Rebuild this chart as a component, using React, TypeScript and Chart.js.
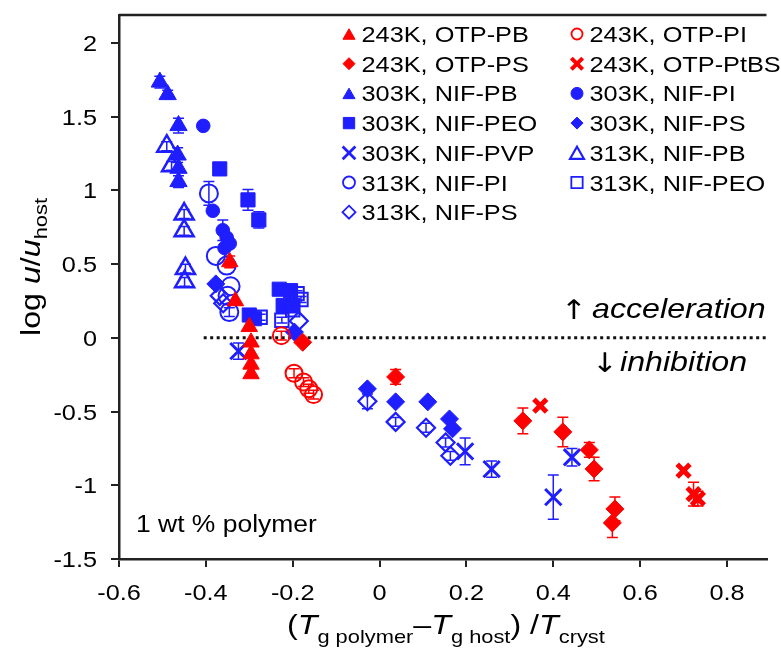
import React, { useEffect, useRef } from 'react';
import { Chart, registerables } from 'chart.js';

Chart.register(...registerables);

// ---------- axis ticks ----------
const xTicks = [-0.6, -0.4, -0.2, 0, 0.2, 0.4, 0.6, 0.8];
const xTickLabels = ['-0.6', '-0.4', '-0.2', '0', '0.2', '0.4', '0.6', '0.8'];
const yTicks = [2, 1.5, 1, 0.5, 0, -0.5, -1, -1.5];
const yTickLabels = ['2', '1.5', '1', '0.5', '0', '-0.5', '-1', '-1.5'];
const X_MIN = -0.6;
const X_MAX = 0.891;
const Y_MIN = -1.5;
const Y_MAX = 2.19;
const ZERO_LINE_START = -0.405;

// ---------- series data ----------
const otpPbX = [-0.345, -0.332, -0.3, -0.296, -0.296, -0.296, -0.296];
const otpPbY = [0.515, 0.25, 0.075, -0.03, -0.11, -0.18, -0.245];
const otpPbErr = [0.04, 0, 0, 0, 0, 0, 0];

const otpPiX = [-0.226, -0.197, -0.175, -0.163, -0.152];
const otpPiY = [0.015, -0.24, -0.3, -0.345, -0.385];
const otpPiErr = [0.03, 0.03, 0.03, 0.03, 0.03];

const otpPsX = [-0.177, 0.037, 0.33, 0.422, 0.483, 0.494, 0.542, 0.536];
const otpPsY = [-0.03, -0.265, -0.563, -0.638, -0.76, -0.889, -1.16, -1.255];
const otpPsErr = [0, 0.05, 0.088, 0.1, 0.05, 0.08, 0.08, 0.1];

const otpPtbsX = [0.37, 0.7, 0.723, 0.733];
const otpPtbsY = [-0.46, -0.9, -1.06, -1.09];
const otpPtbsErr = [0, 0, 0.08, 0.05];

const nifPb303X = [-0.506, -0.488, -0.463, -0.465, -0.463, -0.463];
const nifPb303Y = [1.735, 1.65, 1.44, 1.24, 1.15, 1.06];
const nifPb303Err = [0.04, 0.03, 0.05, 0.05, 0, 0.04];

const nifPi303X = [-0.406, -0.384, -0.361, -0.352, -0.357, -0.345];
const nifPi303Y = [1.438, 0.862, 0.73, 0.68, 0.61, 0.64];
const nifPi303Err = [0, 0, 0.07, 0, 0, 0];

const nifPeo303X = [-0.368, -0.303, -0.278, -0.3, -0.288, -0.231, -0.222, -0.2, -0.205];
const nifPeo303Y = [1.146, 0.936, 0.8, 0.155, 0.13, 0.33, 0.22, 0.22, 0.32];
const nifPeo303Err = [0, 0.07, 0.055, 0, 0, 0, 0, 0, 0];

const nifPs303X = [-0.377, -0.196, -0.028, 0.037, 0.111, 0.161, 0.168];
const nifPs303Y = [0.366, 0.039, -0.346, -0.434, -0.434, -0.55, -0.617];
const nifPs303Err = [0, 0, 0, 0, 0, 0, 0];

const nifPvp303X = [-0.325, 0.197, 0.258, 0.4, 0.443];
const nifPvp303Y = [-0.09, -0.77, -0.89, -1.08, -0.81];
const nifPvp303Err = [0.055, 0.09, 0.055, 0.15, 0.06];

const nifPb313X = [-0.49, -0.479, -0.45, -0.45, -0.447, -0.449];
const nifPb313Y = [1.3, 1.167, 0.84, 0.726, 0.47, 0.38];
const nifPb313Err = [0.03, 0.03, 0.03, 0.03, 0.03, 0.03];

const nifPi313X = [-0.393, -0.377, -0.352, -0.343, -0.35, -0.346];
const nifPi313Y = [0.98, 0.556, 0.49, 0.35, 0.285, 0.175];
const nifPi313Err = [0.08, 0, 0, 0, 0, 0.03];

const nifPeo313X = [-0.275, -0.19, -0.181, -0.225, -0.2];
const nifPeo313Y = [0.14, 0.3, 0.26, 0.12, 0.19];
const nifPeo313Err = [0.02, 0.02, 0.02, 0.02, 0.02];

const nifPs313X = [-0.368, -0.36, -0.186, -0.028, 0.037, 0.107, 0.152, 0.163];
const nifPs313Y = [0.285, 0.235, 0.115, -0.43, -0.57, -0.61, -0.71, -0.8];
const nifPs313Err = [0, 0, 0, 0.05, 0.03, 0.03, 0.03, 0.03];

const seriesLabels = [
  '243K, OTP-PB', '243K, OTP-PI',
  '243K, OTP-PS', '243K, OTP-PtBS',
  '303K, NIF-PB', '303K, NIF-PI',
  '303K, NIF-PEO', '303K, NIF-PS',
  '303K, NIF-PVP', '313K, NIF-PB',
  '313K, NIF-PI', '313K, NIF-PEO',
  '313K, NIF-PS',
];

const RED = 'rgb(255,0,0)';
const BLUE = 'rgb(30,30,255)';
const FONT = "'Liberation Sans', Arial, sans-serif";
const ARROW_FONT = "'DejaVu Sans', sans-serif";
const STRETCH = 1.15;

type Series = {
  label: string; x: number[]; y: number[]; err: number[];
  color: string; style: string; filled: boolean; r: number; bw: number; lr: number; lbw: number;
};

const series: Series[] = [
  { label: seriesLabels[0], x: otpPbX, y: otpPbY, err: otpPbErr, color: RED, style: 'triangle', filled: true, r: 9.5, bw: 1, lr: 7, lbw: 1 },
  { label: seriesLabels[1], x: otpPiX, y: otpPiY, err: otpPiErr, color: RED, style: 'circle', filled: false, r: 8.5, bw: 2, lr: 5.5, lbw: 1.8 },
  { label: seriesLabels[2], x: otpPsX, y: otpPsY, err: otpPsErr, color: RED, style: 'rectRot', filled: true, r: 9, bw: 1, lr: 6, lbw: 1 },
  { label: seriesLabels[3], x: otpPtbsX, y: otpPtbsY, err: otpPtbsErr, color: RED, style: 'crossRot', filled: false, r: 9, bw: 5, lr: 8, lbw: 4 },
  { label: seriesLabels[4], x: nifPb303X, y: nifPb303Y, err: nifPb303Err, color: BLUE, style: 'triangle', filled: true, r: 10, bw: 1, lr: 7, lbw: 1 },
  { label: seriesLabels[5], x: nifPi303X, y: nifPi303Y, err: nifPi303Err, color: BLUE, style: 'circle', filled: true, r: 6.8, bw: 1, lr: 6, lbw: 1 },
  { label: seriesLabels[6], x: nifPeo303X, y: nifPeo303Y, err: nifPeo303Err, color: BLUE, style: 'rect', filled: true, r: 10, bw: 1, lr: 8, lbw: 1 },
  { label: seriesLabels[7], x: nifPs303X, y: nifPs303Y, err: nifPs303Err, color: BLUE, style: 'rectRot', filled: true, r: 9, bw: 1, lr: 6, lbw: 1 },
  { label: seriesLabels[8], x: nifPvp303X, y: nifPvp303Y, err: nifPvp303Err, color: BLUE, style: 'crossRot', filled: false, r: 11.5, bw: 3, lr: 9, lbw: 2.8 },
  { label: seriesLabels[9], x: nifPb313X, y: nifPb313Y, err: nifPb313Err, color: BLUE, style: 'triangle', filled: false, r: 11, bw: 2.5, lr: 8, lbw: 2.2 },
  { label: seriesLabels[10], x: nifPi313X, y: nifPi313Y, err: nifPi313Err, color: BLUE, style: 'circle', filled: false, r: 9, bw: 2, lr: 6, lbw: 1.8 },
  { label: seriesLabels[11], x: nifPeo313X, y: nifPeo313Y, err: nifPeo313Err, color: BLUE, style: 'rect', filled: false, r: 9.5, bw: 2, lr: 8, lbw: 1.8 },
  { label: seriesLabels[12], x: nifPs313X, y: nifPs313Y, err: nifPs313Err, color: BLUE, style: 'rectRot', filled: false, r: 9, bw: 2.2, lr: 6.5, lbw: 1.8 },
];

type Run = { t: string; font: string; dy?: number };

function drawRuns(ctx: CanvasRenderingContext2D, runs: Run[], x: number, y: number, rotate = false) {
  ctx.save();
  ctx.translate(x, y);
  if (rotate) ctx.rotate(-Math.PI / 2);
  ctx.scale(STRETCH, 1);
  ctx.fillStyle = '#000';
  ctx.textBaseline = 'alphabetic';
  ctx.textAlign = 'left';
  let cx = 0;
  for (const r of runs) {
    ctx.font = r.font;
    ctx.fillText(r.t, cx, r.dy || 0);
    cx += ctx.measureText(r.t).width;
  }
  ctx.restore();
}

function textWidth(ctx: CanvasRenderingContext2D, t: string, font: string) {
  ctx.save();
  ctx.font = font;
  const w = ctx.measureText(t).width * STRETCH;
  ctx.restore();
  return w;
}

function drawMarker(ctx: CanvasRenderingContext2D, s: Series, x: number, y: number) {
  const r = s.lr;
  ctx.save();
  ctx.beginPath();
  if (s.style === 'circle') {
    ctx.arc(x, y, r, 0, Math.PI * 2);
  } else if (s.style === 'triangle') {
    const yy = y + r / 4;
    ctx.moveTo(x, yy - r);
    ctx.lineTo(x + r * Math.sin((2 * Math.PI) / 3), yy - r * Math.cos((2 * Math.PI) / 3));
    ctx.lineTo(x + r * Math.sin((4 * Math.PI) / 3), yy - r * Math.cos((4 * Math.PI) / 3));
    ctx.closePath();
  } else if (s.style === 'rect') {
    const h = r * Math.SQRT1_2;
    ctx.rect(x - h, y - h, 2 * h, 2 * h);
  } else if (s.style === 'rectRot') {
    ctx.moveTo(x, y - r);
    ctx.lineTo(x + r, y);
    ctx.lineTo(x, y + r);
    ctx.lineTo(x - r, y);
    ctx.closePath();
  } else if (s.style === 'crossRot') {
    const o = r * Math.SQRT1_2;
    ctx.moveTo(x - o, y - o);
    ctx.lineTo(x + o, y + o);
    ctx.moveTo(x + o, y - o);
    ctx.lineTo(x - o, y + o);
  }
  ctx.lineWidth = s.lbw;
  ctx.strokeStyle = s.color;
  ctx.fillStyle = s.color;
  if (s.filled && s.style !== 'crossRot') ctx.fill();
  ctx.stroke();
  ctx.restore();
}

const decorPlugin = {
  id: 'decor',
  beforeDatasetsDraw(chart: any) {
    const ctx: CanvasRenderingContext2D = chart.ctx;
    const xs = chart.scales.x;
    const ys = chart.scales.y;
    const area = chart.chartArea;
    // dotted zero line
    ctx.save();
    ctx.beginPath();
    ctx.setLineDash([3, 3.5]);
    ctx.lineWidth = 3;
    ctx.strokeStyle = '#111';
    const y0 = ys.getPixelForValue(0);
    ctx.moveTo(xs.getPixelForValue(ZERO_LINE_START), y0);
    ctx.lineTo(area.right, y0);
    ctx.stroke();
    ctx.restore();
    // error bars
    ctx.save();
    ctx.lineWidth = 1.5;
    series.forEach((s) => {
      ctx.strokeStyle = s.color;
      s.x.forEach((xv, i) => {
        const e = s.err[i];
        if (!e) return;
        const px = xs.getPixelForValue(xv);
        const top = ys.getPixelForValue(s.y[i] + e);
        const bot = ys.getPixelForValue(s.y[i] - e);
        ctx.beginPath();
        ctx.moveTo(px, top);
        ctx.lineTo(px, bot);
        ctx.moveTo(px - 5.5, top);
        ctx.lineTo(px + 5.5, top);
        ctx.moveTo(px - 5.5, bot);
        ctx.lineTo(px + 5.5, bot);
        ctx.stroke();
      });
    });
    ctx.restore();
  },
  afterDraw(chart: any) {
    const ctx: CanvasRenderingContext2D = chart.ctx;
    const xs = chart.scales.x;
    const ys = chart.scales.y;
    const area = chart.chartArea;
    // top frame line
    ctx.save();
    ctx.strokeStyle = '#222';
    ctx.lineWidth = 2.5;
    ctx.beginPath();
    ctx.moveTo(area.left, area.top);
    ctx.lineTo(area.right, area.top);
    ctx.stroke();
    ctx.restore();

    const tickFont = `22px ${FONT}`;
    // y tick labels
    yTicks.forEach((v, i) => {
      const t = yTickLabels[i];
      const w = textWidth(ctx, t, tickFont);
      drawRuns(ctx, [{ t, font: tickFont }], 97 - w, ys.getPixelForValue(v) + 8);
    });
    // x tick labels
    xTicks.forEach((v, i) => {
      const t = xTickLabels[i];
      const w = textWidth(ctx, t, tickFont);
      drawRuns(ctx, [{ t, font: tickFont }], xs.getPixelForValue(v) - w / 2, 600);
    });

    // axis titles
    const big = `28px ${FONT}`;
    const bigI = `italic 28px ${FONT}`;
    const sub = `19px ${FONT}`;
    drawRuns(ctx, [
      { t: '(', font: big },
      { t: 'T', font: bigI },
      { t: 'g polymer', font: sub, dy: 9 },
      { t: '\u2013', font: big },
      { t: 'T', font: bigI },
      { t: 'g host', font: sub, dy: 9 },
      { t: ')', font: big },
      { t: ' /', font: big },
      { t: 'T', font: bigI },
      { t: 'cryst', font: sub, dy: 9 },
    ], 287, 634);
    drawRuns(ctx, [
      { t: 'log ', font: big },
      { t: 'u', font: bigI },
      { t: '/', font: big },
      { t: 'u', font: bigI },
      { t: 'host', font: sub, dy: 7 },
    ], 40, 336, true);

    // annotations
    const annI = `italic 28px ${FONT}`;
    const arrowFont = `27px ${ARROW_FONT}`;
    drawRuns(ctx, [{ t: '\u2191', font: arrowFont }], 561, 319);
    drawRuns(ctx, [{ t: 'acceleration', font: annI }], 592, 318);
    drawRuns(ctx, [{ t: '\u2193', font: arrowFont }], 592, 372);
    drawRuns(ctx, [{ t: 'inhibition', font: annI }], 620, 371);
    drawRuns(ctx, [{ t: '1 wt % polymer', font: `23px ${FONT}` }], 136, 532);

    // legend (two columns)
    const legFont = `22px ${FONT}`;
    series.forEach((s, i) => {
      const row = Math.floor(i / 2);
      const col = i % 2;
      const cy = 34 + row * 29.7;
      const mx = col === 0 ? 349 : 577;
      drawMarker(ctx, s, mx, cy);
      drawRuns(ctx, [{ t: s.label, font: legFont }], mx + 12.5, cy + 8);
    });
  },
};

export default function App() {
  const ref = useRef<HTMLCanvasElement | null>(null);
  useEffect(() => {
    if (!ref.current) return;
    const datasets = series.map((s) => ({
      label: s.label,
      data: s.x.map((v, i) => ({ x: v, y: s.y[i] })),
      pointStyle: s.style,
      pointRadius: s.r,
      pointHoverRadius: s.r,
      pointBorderWidth: s.bw,
      pointBackgroundColor: s.filled ? s.color : 'rgba(0,0,0,0)',
      pointBorderColor: s.color,
      showLine: false,
    }));
    const chart = new Chart(ref.current, {
      type: 'scatter',
      data: { datasets: datasets as any },
      options: {
        animation: false,
        responsive: false,
        devicePixelRatio: 1,
        layout: { padding: { top: 15, left: 0, right: 0, bottom: 0 } },
        plugins: { legend: { display: false }, tooltip: { enabled: false } },
        scales: {
          x: {
            type: 'linear',
            min: X_MIN,
            max: X_MAX,
            afterBuildTicks: (s: any) => { s.ticks = xTicks.map((v) => ({ value: v })); },
            afterFit: (s: any) => { s.height = 89; },
            ticks: { display: false },
            grid: { display: true, drawOnChartArea: false, drawTicks: true, tickLength: 8, lineWidth: 2, color: '#222' },
            border: { display: true, color: '#222', width: 2.5 },
          },
          y: {
            type: 'linear',
            min: Y_MIN,
            max: Y_MAX,
            afterBuildTicks: (s: any) => { s.ticks = yTicks.map((v) => ({ value: v })); },
            afterFit: (s: any) => { s.width = 119; },
            ticks: { display: false },
            grid: { display: true, drawOnChartArea: false, drawTicks: true, tickLength: 8, lineWidth: 2, color: '#222' },
            border: { display: true, color: '#222', width: 2.5 },
          },
        },
      } as any,
      plugins: [decorPlugin],
    });
    return () => chart.destroy();
  }, []);
  return (
    <div style={{ position: 'absolute', left: 0, top: 0, width: 781, height: 648, background: '#fff' }}>
      <canvas ref={ref} width={781} height={648} style={{ display: 'block' }} />
    </div>
  );
}
